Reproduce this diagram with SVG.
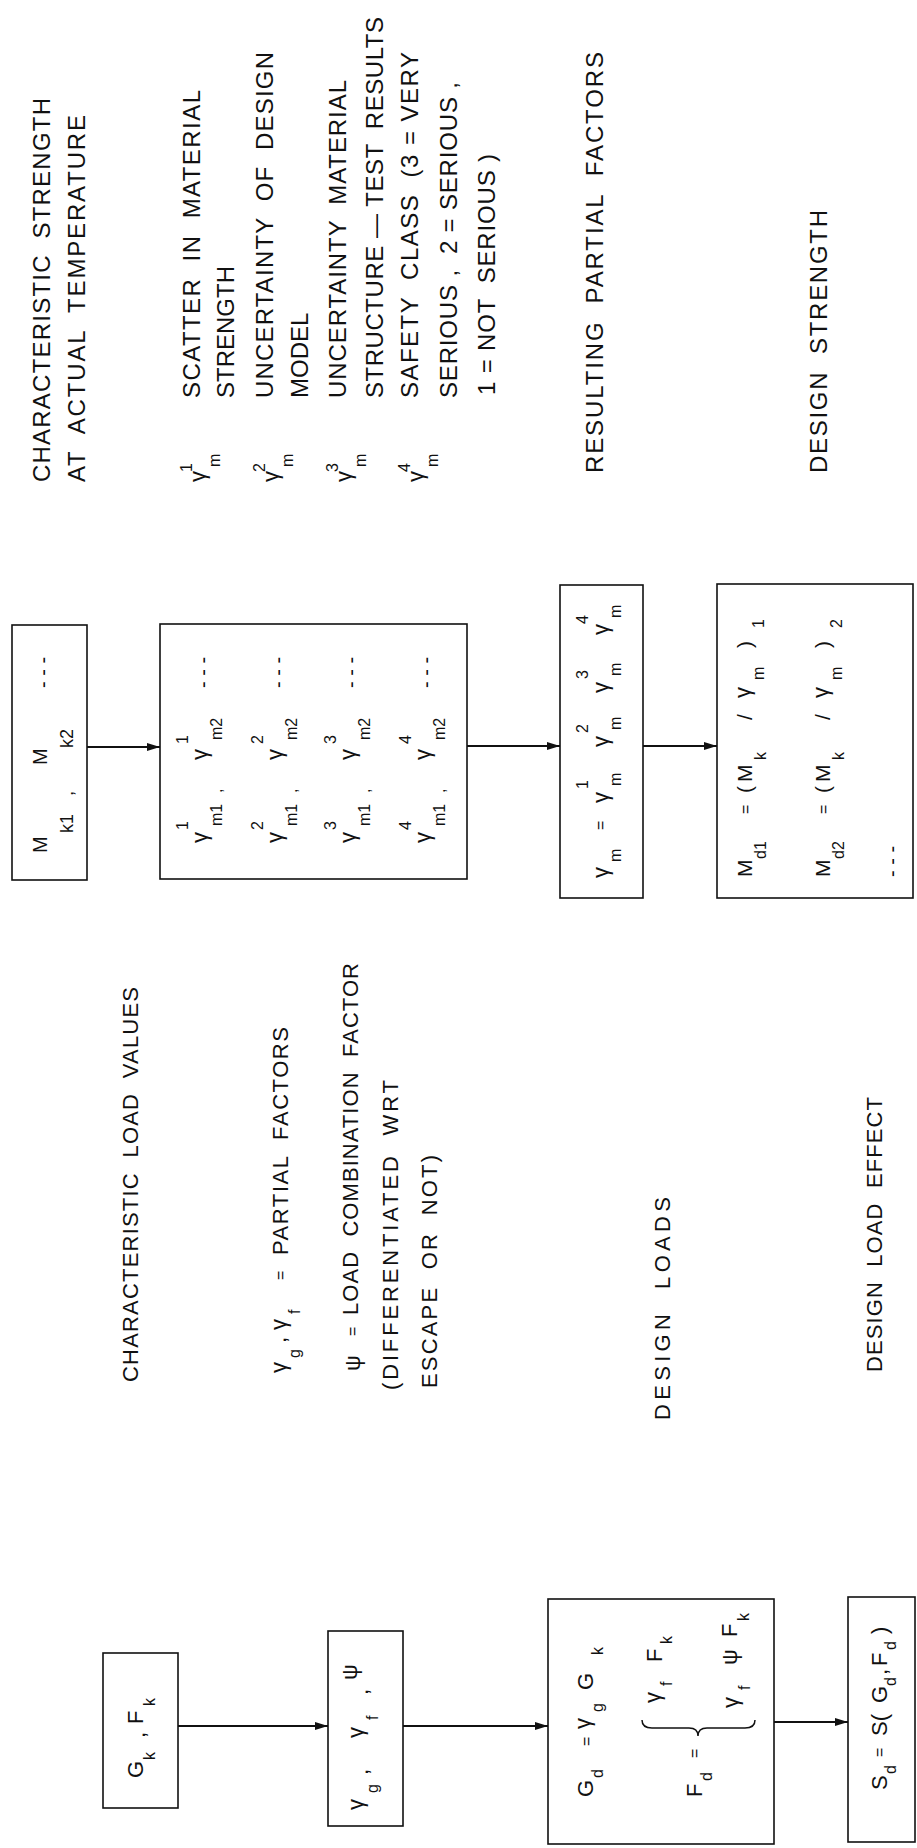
<svg xmlns="http://www.w3.org/2000/svg" width="917" height="1848" viewBox="0 0 917 1848" xml:space="preserve">
<style>
text{font-family:"Liberation Sans",Arial,sans-serif;fill:#111;white-space:pre}
.lb{font-size:24px}
.lm{font-size:22px}
.t{font-size:22px}
.s{font-size:16px}
.box{fill:none;stroke:#111;stroke-width:1.6}
.con{stroke:#111;stroke-width:1.8;fill:none}
.br{fill:none;stroke:#111;stroke-width:1.5}
</style>
<defs>
<marker id="ah" markerUnits="userSpaceOnUse" markerWidth="14" markerHeight="10" refX="13" refY="4" orient="auto">
<path d="M0,0 L13,4 L0,8 z" fill="#111"/>
</marker>
</defs>
<rect width="917" height="1848" fill="#fff"/>
<g transform="matrix(0 -1 1 0 0 1848)">
<g id="labels">
<text class="lb" x="1366" y="50" textLength="384">CHARACTERISTIC  STRENGTH</text>
<text class="lb" x="1366" y="85" textLength="367">AT  ACTUAL  TEMPERATURE</text>
<text class="t" x="1366" y="205">γ</text><text class="s" x="1376" y="192">1</text><text class="s" x="1381" y="220">m</text>
<text class="lb" x="1450" y="200" textLength="308">SCATTER  IN  MATERIAL</text>
<text class="lb" x="1450" y="234">STRENGTH</text>
<text class="t" x="1366" y="278">γ</text><text class="s" x="1376" y="265">2</text><text class="s" x="1381" y="293">m</text>
<text class="lb" x="1450" y="273" textLength="346">UNCERTAINTY  OF  DESIGN</text>
<text class="lb" x="1450" y="308">MODEL</text>
<text class="t" x="1366" y="351">γ</text><text class="s" x="1376" y="338">3</text><text class="s" x="1381" y="366">m</text>
<text class="lb" x="1450" y="346" textLength="318">UNCERTAINTY  MATERIAL</text>
<text class="lb" x="1450" y="383" textLength="381">STRUCTURE — TEST  RESULTS</text>
<text class="t" x="1366" y="423">γ</text><text class="s" x="1376" y="410">4</text><text class="s" x="1381" y="438">m</text>
<text class="lb" x="1450" y="418" textLength="346">SAFETY  CLASS  (3 = VERY</text>
<text class="lb" x="1450" y="457" textLength="316">SERIOUS ,  2 = SERIOUS ,</text>
<text class="lb" x="1453" y="495" textLength="241">1 = NOT  SERIOUS )</text>
<text class="lb" x="1375" y="603" textLength="421">RESULTING  PARTIAL  FACTORS</text>
<text class="lb" x="1375" y="827" textLength="263">DESIGN  STRENGTH</text>
<text class="lm" x="466" y="138" textLength="395">CHARACTERISTIC  LOAD  VALUES</text>
<text class="t" x="475" y="286">γ</text><text class="s" x="490" y="300">g</text><text class="lm" x="505" y="286">,</text><text class="t" x="518" y="286">γ</text><text class="s" x="534" y="300">f</text><text class="s" x="568" y="286">=</text>
<text class="lm" x="593" y="288" textLength="228">PARTIAL  FACTORS</text>
<text class="lm" x="477" y="360">ψ</text><text class="s" x="512" y="358">=</text>
<text class="lm" x="533" y="358" textLength="352">LOAD  COMBINATION  FACTOR</text>
<text class="lm" x="458" y="398" textLength="310">(DIFFERENTIATED  WRT</text>
<text class="lm" x="460" y="437" textLength="233">ESCAPE  OR  NOT)</text>
<text class="lm" x="428" y="670" textLength="223">DESIGN  LOADS</text>
<text class="lm" x="476" y="882" textLength="275">DESIGN  LOAD  EFFECT</text>
</g>
<g id="node-gk-fk">
<rect class="box" x="40" y="103" width="155" height="75"/>
<text class="t" x="70" y="143">G</text><text class="s" x="88" y="155">k</text><text class="t" x="110" y="145">,</text><text class="t" x="124" y="143">F</text><text class="s" x="142" y="155">k</text>
</g>
<g id="node-partial">
<rect class="box" x="22" y="328" width="195" height="75"/>
<text class="t" x="38" y="363">γ</text><text class="s" x="55" y="378">g</text><text class="t" x="73" y="368">,</text><text class="t" x="110" y="363">γ</text><text class="s" x="128" y="378">f</text><text class="t" x="153" y="368">,</text><text class="t" x="168" y="357">ψ</text>
</g>
<g id="node-design-loads">
<rect class="box" x="4" y="548" width="245" height="226"/>
<text class="t" x="51" y="593">G</text><text class="s" x="70" y="603">d</text><text class="s" x="102" y="592">=</text><text class="t" x="119" y="590">γ</text><text class="s" x="136" y="603">g</text><text class="t" x="158" y="593">G</text><text class="s" x="193" y="603">k</text>
<text class="t" x="145" y="660">γ</text><text class="s" x="162" y="672">f</text><text class="t" x="186" y="662">F</text><text class="s" x="204" y="672">k</text>
<text class="t" x="51" y="702">F</text><text class="s" x="67" y="712">d</text><text class="s" x="90" y="700">=</text>
<path class="br" d="M128,642 Q120,642 120,652 L120,689 Q120,698 112,698 Q120,698 120,707 L120,745 Q120,755 128,755"/>
<text class="t" x="140" y="738">γ</text><text class="s" x="158" y="750">f</text><text class="t" x="183" y="737">ψ</text><text class="t" x="211" y="737">F</text><text class="s" x="227" y="749">k</text>
</g>
<g id="node-load-effect">
<rect class="box" x="6" y="848" width="245" height="67"/>
<text class="t" x="58" y="887">S</text><text class="s" x="74" y="896">d</text><text class="s" x="91" y="885">=</text><text class="t" x="112" y="887">S(</text><text class="t" x="145" y="887">G</text><text class="s" x="162" y="896">d</text><text class="t" x="173" y="887">,</text><text class="t" x="182" y="887">F</text><text class="s" x="198" y="896">d</text><text class="t" x="214" y="887">)</text>
</g>
<g id="node-mk">
<rect class="box" x="968" y="12" width="255" height="75"/>
<text x="995" y="47" font-size="20">M</text><text x="1015" y="73" font-size="18">k1</text><text x="1052" y="73" font-size="18">,</text>
<text x="1083" y="47" font-size="20">M</text><text x="1100" y="73" font-size="18">k2</text><text x="1160" y="50" font-size="20">- - -</text>
</g>
<g id="node-gamma-list">
<rect class="box" x="969" y="160" width="255" height="307"/>
<text class="t" x="1005" y="207">γ</text><text class="s" x="1018" y="188">1</text><text class="s" x="1022" y="222">m1</text><text class="s" x="1055" y="222">,</text><text class="t" x="1088" y="207">γ</text><text class="s" x="1104" y="188">1</text><text class="s" x="1108" y="222">m2</text><text x="1160" y="210" font-size="20">- - -</text>
<text class="t" x="1005" y="282">γ</text><text class="s" x="1018" y="263">2</text><text class="s" x="1022" y="297">m1</text><text class="s" x="1055" y="297">,</text><text class="t" x="1088" y="282">γ</text><text class="s" x="1104" y="263">2</text><text class="s" x="1108" y="297">m2</text><text x="1160" y="285" font-size="20">- - -</text>
<text class="t" x="1005" y="355">γ</text><text class="s" x="1018" y="336">3</text><text class="s" x="1022" y="370">m1</text><text class="s" x="1055" y="370">,</text><text class="t" x="1088" y="355">γ</text><text class="s" x="1104" y="336">3</text><text class="s" x="1108" y="370">m2</text><text x="1160" y="358" font-size="20">- - -</text>
<text class="t" x="1005" y="430">γ</text><text class="s" x="1018" y="411">4</text><text class="s" x="1022" y="445">m1</text><text class="s" x="1055" y="445">,</text><text class="t" x="1088" y="430">γ</text><text class="s" x="1104" y="411">4</text><text class="s" x="1108" y="445">m2</text><text x="1160" y="433" font-size="20">- - -</text>
</g>
<g id="node-gamma-m">
<rect class="box" x="950" y="560" width="313" height="83"/>
<text class="t" x="970" y="608">γ</text><text class="s" x="986" y="621">m</text><text class="s" x="1018" y="606">=</text>
<text class="t" x="1045" y="608">γ</text><text class="s" x="1059" y="588">1</text><text class="s" x="1062" y="621">m</text>
<text class="t" x="1101" y="608">γ</text><text class="s" x="1115" y="588">2</text><text class="s" x="1118" y="621">m</text>
<text class="t" x="1155" y="608">γ</text><text class="s" x="1169" y="588">3</text><text class="s" x="1172" y="621">m</text>
<text class="t" x="1213" y="608">γ</text><text class="s" x="1224" y="588">4</text><text class="s" x="1230" y="621">m</text>
</g>
<g id="node-design-strength">
<rect class="box" x="950" y="717" width="314" height="196"/>
<text x="971" y="752" font-size="21">M</text><text class="s" x="989" y="766">d1</text><text class="s" x="1034" y="751">=</text><text x="1055" y="752" font-size="21">(</text><text x="1066" y="752" font-size="21">M</text><text class="s" x="1088" y="766">k</text><text x="1128" y="752" font-size="21">/</text><text class="t" x="1150" y="750">γ</text><text class="s" x="1168" y="764">m</text><text x="1200" y="752" font-size="21">)</text><text class="s" x="1220" y="764">1</text>
<text x="971" y="830" font-size="21">M</text><text class="s" x="989" y="844">d2</text><text class="s" x="1034" y="829">=</text><text x="1055" y="830" font-size="21">(</text><text x="1066" y="830" font-size="21">M</text><text class="s" x="1088" y="844">k</text><text x="1128" y="830" font-size="21">/</text><text class="t" x="1150" y="828">γ</text><text class="s" x="1168" y="842">m</text><text x="1200" y="830" font-size="21">)</text><text class="s" x="1220" y="842">2</text>
<text x="971" y="899" font-size="20">- - -</text>
</g>
<g id="connectors">
<line class="con" x1="1101" y1="87" x2="1101" y2="160" marker-end="url(#ah)"/>
<line class="con" x1="1102" y1="467" x2="1102" y2="560" marker-end="url(#ah)"/>
<line class="con" x1="1102" y1="643" x2="1102" y2="717" marker-end="url(#ah)"/>
<line class="con" x1="122" y1="178" x2="122" y2="328" marker-end="url(#ah)"/>
<line class="con" x1="122" y1="403" x2="122" y2="548" marker-end="url(#ah)"/>
<line class="con" x1="126" y1="774" x2="126" y2="848" marker-end="url(#ah)"/>
</g>
</g>
</svg>
